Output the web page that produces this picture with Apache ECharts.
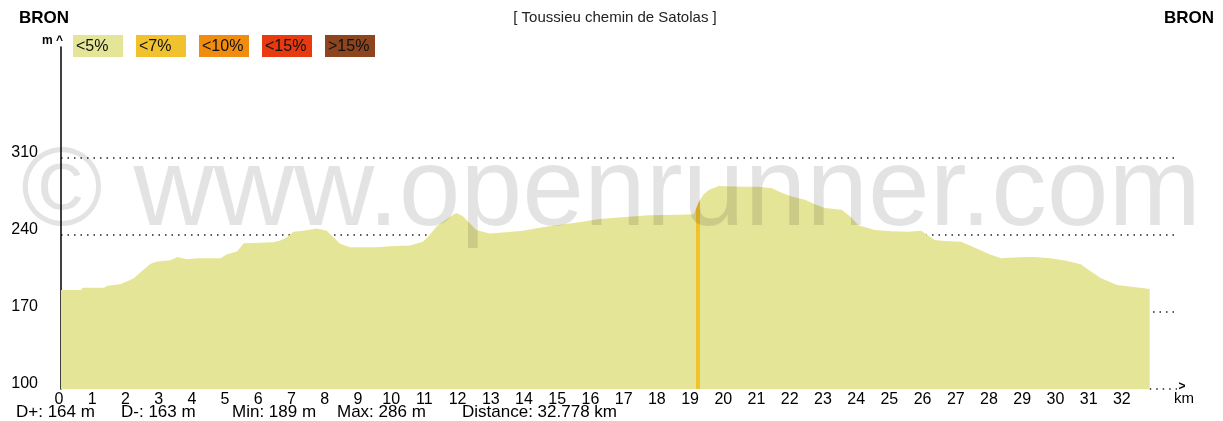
<!DOCTYPE html>
<html><head><meta charset="utf-8">
<script src="https://cdn.jsdelivr.net/npm/echarts@6/dist/echarts.min.js"></script>
<style>html,body{margin:0;padding:0;background:#fff}#c{width:1223px;height:421px}</style>
</head><body><div id="c"></div>
<script>
// ---- data ----
const distanceKm = [0, 0.6, 0.65, 1.3, 1.4, 1.8, 2.0, 2.2, 2.5, 2.7, 2.9, 3.3, 3.5, 3.8, 4.1, 4.8, 5.0, 5.3, 5.5, 6.0, 6.4, 6.6, 6.8, 7.0, 7.3, 7.7, 8.0, 8.2, 8.4, 8.7, 9.0, 9.5, 10.0, 10.5, 10.9, 11.1, 11.3, 11.7, 11.9, 12.1, 12.3, 12.5, 12.9, 13.4, 13.9, 14.5, 15.2, 15.7, 16.2, 17.0, 17.7, 18.6, 19.05, 19.2, 19.35, 19.5, 19.8, 20.5, 21.0, 21.4, 21.7, 22.0, 22.4, 22.7, 23.0, 23.5, 23.8, 24.0, 24.5, 25.0, 25.5, 25.9, 26.3, 26.6, 27.1, 27.4, 27.7, 28.0, 28.3, 29.0, 29.3, 29.8, 30.3, 30.7, 31.0, 31.3, 31.6, 31.8, 32.3, 32.778];
const elevationM = [190, 190, 192, 192, 194, 195.5, 198, 201, 209, 214, 216, 217, 220, 218, 219, 219, 222.5, 225, 232.5, 233, 233.5, 235, 238, 243, 244, 246, 244, 238, 232, 229, 229, 229, 230, 230.5, 234, 240, 247.5, 256.5, 260, 257, 251, 244.5, 241.5, 242.5, 244, 247, 250, 252, 254.5, 256.5, 258, 258.5, 259, 270, 277, 281, 284.5, 284, 284, 282.5, 278.5, 275, 272, 268, 264.5, 263, 256, 249, 244.5, 243.5, 243, 244, 235.5, 234.5, 234, 230, 226, 222, 219, 220, 220, 219, 216.5, 213.5, 207, 201, 197, 194.5, 192.7, 191];
const gradeLabels = ['<5%', '<7%', '<10%', '<15%', '>15%'];
const gradeColors = ['#E5E598', '#F2C12E', '#F08C10', '#E83A10', '#8C451E'];
// [fromKm, toKm, gradeIndex] for sections steeper than 5%
const steepSegments = [[19.13, 19.25, 1]];
const yTicks = [100, 170, 240, 310];
const xLastLabel = 32;
const xAxisMax = 33.6;
const startName = 'BRON';
const endName = 'BRON';
const viaName = '[ Toussieu chemin de Satolas ]';
const statLabels = ['D+: 164 m', 'D-: 163 m', 'Min: 189 m', 'Max: 286 m', 'Distance: 32.778 km'];

// ---- chart ----
const FONT = '"Liberation Sans", Arial, sans-serif';
const profile = distanceKm.map((d, i) => [d, elevationM[i]]);
const lastKm = distanceKm[distanceKm.length - 1];

const pieces = [];
let prev = null;
steepSegments.forEach(s => {
  pieces.push(prev === null ? { lt: s[0], color: gradeColors[0] } : { gt: prev, lt: s[0], color: gradeColors[0] });
  pieces.push({ gte: s[0], lte: s[1], color: gradeColors[s[2]] });
  prev = s[1];
});
pieces.push({ gt: prev, color: gradeColors[0] });

function txt(x, y, text, size, weight, align, color, extra) {
  return Object.assign({
    type: 'text', x: x, y: y, z: 20, silent: true,
    style: {
      text: text, fontSize: size, fontWeight: weight || 'normal', fontFamily: FONT,
      fill: color || '#000', textAlign: align || 'left', align: align || 'left',
      textVerticalAlign: 'middle', verticalAlign: 'middle'
    }
  }, extra || {});
}

const graphics = [];
graphics.push(txt(19, 18, startName, 17, 'bold', 'left'));
graphics.push(txt(1214, 18, endName, 17, 'bold', 'right'));
graphics.push(txt(615, 18, viaName, 15, 'normal', 'center', '#222'));
graphics.push(txt(63, 41, 'm ^', 12, 'bold', 'right'));
gradeLabels.forEach((lab, i) => {
  const x0 = 73 + i * 63;
  graphics.push({ type: 'rect', shape: { x: x0, y: 35, width: 50, height: 22 }, style: { fill: gradeColors[i] }, z: 10, silent: true });
  graphics.push(txt(x0 + 3, 46.5, lab, 16, 'normal', 'left', '#111'));
});
const statX = [16, 121, 232, 337, 462];
statLabels.forEach((s, i) => graphics.push(txt(statX[i], 412, s, 17, 'normal', 'left', '#000')));
graphics.push(txt(1182, 387, '>', 12, 'bold', 'center'));
graphics.push(txt(1184, 399, 'km', 15, 'normal', 'center'));
// watermark
graphics.push({
  type: 'text', x: 611, y: 194, z: 100, silent: true,
  style: { text: '\u00A9 www.openrunner.com', fontSize: 111, fontFamily: FONT, fill: 'rgba(0,0,0,0.11)',
    textAlign: 'center', align: 'center', textVerticalAlign: 'middle', verticalAlign: 'middle' }
});

const gridLines = yTicks.filter(v => v > yTicks[0]).map(v => ({ yAxis: v }));
gridLines.push([{ coord: [lastKm, yTicks[0]] }, { coord: [xAxisMax, yTicks[0]] }]);

const chart = echarts.init(document.getElementById('c'), null, { renderer: 'canvas' });
chart.setOption({
  animation: false,
  backgroundColor: '#fff',
  grid: { left: 61, right: 46, top: 47, bottom: 32, containLabel: false },
  xAxis: {
    type: 'value', min: 0, max: xAxisMax, interval: 1,
    axisLine: { show: false }, axisTick: { show: false }, splitLine: { show: false },
    axisLabel: {
      color: '#000', fontSize: 16, fontFamily: FONT, margin: 3, padding: [0, 4, 0, 0],
      showMaxLabel: false,
      formatter: v => (v <= xLastLabel ? String(v) : '')
    }
  },
  yAxis: {
    type: 'value', min: 100, max: 411, interval: 70,
    axisLine: { show: true, lineStyle: { color: '#000', width: 1.5 } },
    axisTick: { show: false }, splitLine: { show: false },
    axisLabel: {
      color: '#000', fontSize: 16, fontFamily: FONT, margin: 23,
      verticalAlign: 'bottom', lineHeight: 10,
      formatter: v => (yTicks.indexOf(v) >= 0 ? String(v) : '')
    }
  },
  visualMap: { show: false, type: 'piecewise', seriesIndex: 1, dimension: 0, pieces: pieces },
  series: [
    {
      type: 'line', z: 0, data: [[0, 100]], symbol: 'none', lineStyle: { opacity: 0 }, silent: true,
      markLine: {
        z: 0, silent: true, symbol: ['none', 'none'], label: { show: false },
        lineStyle: { color: '#222', type: [1.5, 5], width: 1.5 },
        data: gridLines
      }
    },
    {
      type: 'line', z: 5, data: profile, symbol: 'none', silent: true,
      lineStyle: { width: 0, opacity: 0 },
      areaStyle: { opacity: 1, origin: 'start' }
    }
  ],
  graphic: graphics
});
</script></body></html>
